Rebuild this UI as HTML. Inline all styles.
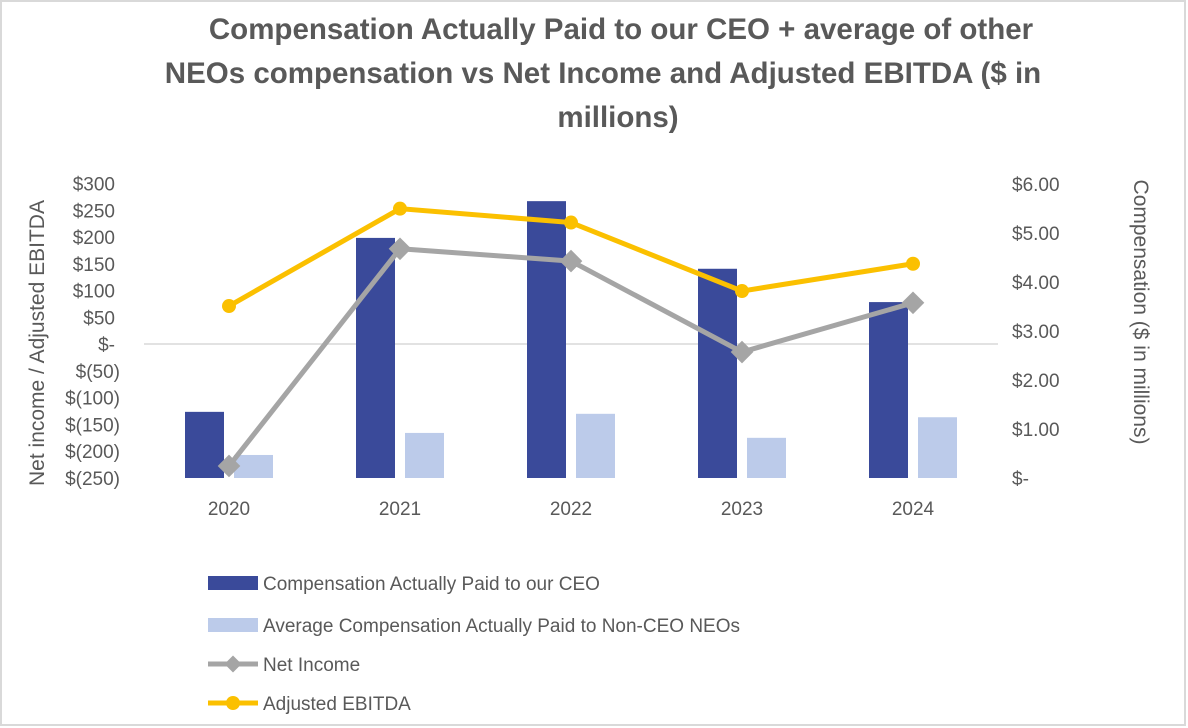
<!DOCTYPE html>
<html><head><meta charset="utf-8"><style>
body{margin:0;background:#fff;font-family:"Liberation Sans",sans-serif}
#wrap{position:relative;width:1188px;height:728px;overflow:hidden}
</style></head><body>
<div id="wrap">
<svg id="chart" width="1188" height="728">
<rect x="1" y="1" width="1184" height="724" fill="#fff" stroke="#d9d9d9" stroke-width="2"/>
<g font-family="Liberation Sans, sans-serif" font-weight="bold" fill="#595959" font-size="29.5" text-anchor="middle">
<text x="621" y="39">Compensation Actually Paid to our CEO + average of other</text>
<text x="603" y="83">NEOs compensation vs Net Income and Adjusted EBITDA ($ in</text>
<text x="618" y="127">millions)</text>
</g>
<text transform="translate(44,343) rotate(-90)" text-anchor="middle" font-size="21" fill="#595959">Net income / Adjusted EBITDA</text>
<text transform="translate(1134,312) rotate(90)" text-anchor="middle" font-size="21" fill="#595959">Compensation ($ in millions)</text>
<g id="plot"></g>
<g id="legend" font-size="19" fill="#595959"></g>
</svg>
</div>
<script>
const years=["2020","2021","2022","2023","2024"];
const ceoComp=[1.35,4.9,5.65,4.27,3.59];
const neoComp=[0.47,0.92,1.31,0.82,1.24];
const netIncome=[-228,178,155,-15,77];
const ebitda=[71,253,227,99,150];
const leftTicks=[300,250,200,150,100,50,0,-50,-100,-150,-200,-250];
const leftTickLabels=["$300","$250","$200","$150","$100","$50","$-","$(50)","$(100)","$(150)","$(200)","$(250)"];
const rightTicks=[6,5,4,3,2,1,0];
const rightTickLabels=["$6.00","$5.00","$4.00","$3.00","$2.00","$1.00","$-"];

const NS="http://www.w3.org/2000/svg";
const plot=document.getElementById('plot');
function mk(tag,attrs,parent){const e=document.createElementNS(NS,tag);for(const k in attrs)e.setAttribute(k,attrs[k]);(parent||plot).appendChild(e);return e;}
const yL=v=>344-(v/50)*26.75;
const yR=v=>478-v*49;
const xC=i=>229+i*171;

leftTicks.forEach((v,i)=>{const t=mk('text',{x:v<0?120:115,y:yL(v)+7,'text-anchor':'end','font-size':19,fill:'#595959'});t.textContent=leftTickLabels[i];

});
rightTicks.forEach((v,i)=>{const t=mk('text',{x:1012,y:yR(v)+7,'font-size':19,fill:'#595959'});t.textContent=rightTickLabels[i];

});
const zl=mk('line',{x1:144,x2:998,y1:yL(0),y2:yL(0),stroke:'#d9d9d9','stroke-width':1.5});



years.forEach((y,i)=>{
 const b1=mk('rect',{x:xC(i)-44,y:yR(ceoComp[i]),width:39,height:yR(0)-yR(ceoComp[i]),fill:'#3a4a9a'});
 
 
 const b2=mk('rect',{x:xC(i)+5,y:yR(neoComp[i]),width:39,height:yR(0)-yR(neoComp[i]),fill:'#bccbea'});
 
 
 const t=mk('text',{x:xC(i),y:515,'text-anchor':'middle','font-size':19,fill:'#595959'});t.textContent=y;
 
 
});
const niPath=mk('polyline',{points:netIncome.map((v,i)=>xC(i)+','+yL(v)).join(' '),fill:'none',stroke:'#a5a5a5','stroke-width':5});


netIncome.forEach((v,i)=>{const m=mk('rect',{x:xC(i)-8,y:yL(v)-8,width:16,height:16,fill:'#a5a5a5',transform:`rotate(45 ${xC(i)} ${yL(v)})`});

});
const ebPath=mk('polyline',{points:ebitda.map((v,i)=>xC(i)+','+yL(v)).join(' '),fill:'none',stroke:'#fbc000','stroke-width':5});


ebitda.forEach((v,i)=>{const m=mk('circle',{cx:xC(i),cy:yL(v),r:7,fill:'#fbc000'});

});

const lg=document.getElementById('legend');
const items=[["Compensation Actually Paid to our CEO","bar","#3a4a9a"],["Average Compensation Actually Paid to Non-CEO NEOs","bar","#bccbea"],["Net Income","diamond","#a5a5a5"],["Adjusted EBITDA","circle","#fbc000"]];
const ly=[583,625,664,703];
items.forEach((it,i)=>{
 const g=mk('g',{},lg);
 
 
 const y=ly[i];
 if(it[1]==='bar')mk('rect',{x:208,y:y-7,width:50,height:14,fill:it[2]},g);
 else{mk('line',{x1:208,x2:258,y1:y,y2:y,stroke:it[2],'stroke-width':5},g);
  if(it[1]==='diamond')mk('rect',{x:227,y:y-6,width:12,height:12,fill:it[2],transform:`rotate(45 233 ${y})`},g);
  else mk('circle',{cx:233,cy:y,r:7,fill:it[2]},g);}
 const t=mk('text',{x:263,y:y+7},g);t.textContent=it[0];
});
</script>
</body></html>
